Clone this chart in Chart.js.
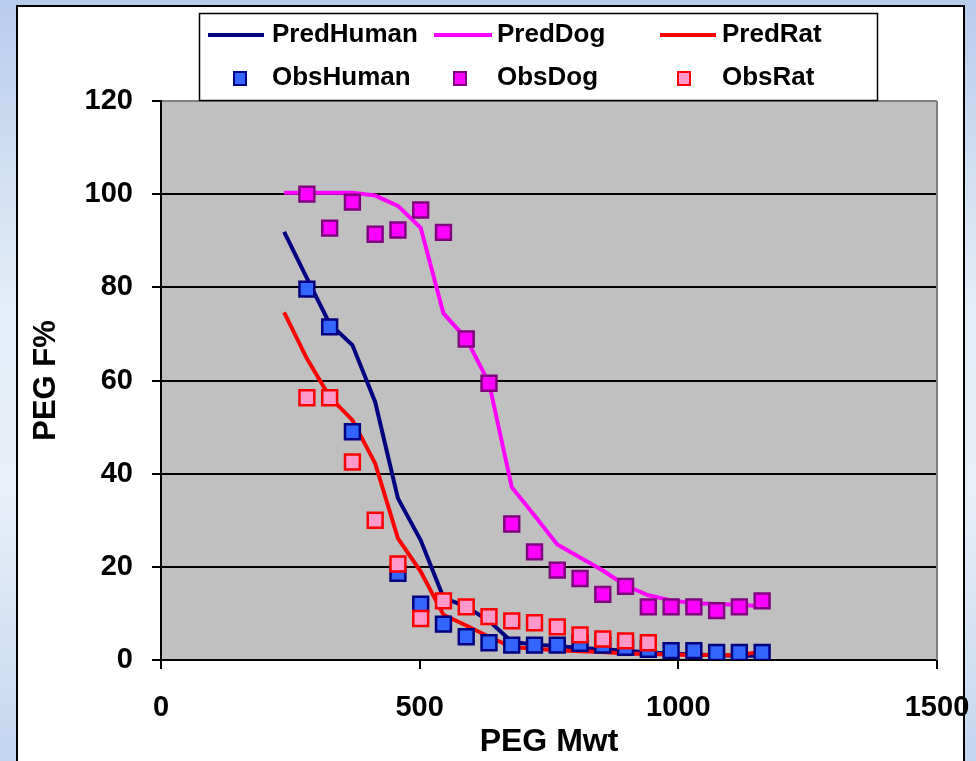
<!DOCTYPE html>
<html lang="en">
<head>
  <meta charset="UTF-8" />
  <title>PEG F% vs PEG Mwt</title>
  <style>
    body { margin: 0; background: #fff; }
    canvas { display: block; }
  </style>
  <script src="https://cdn.jsdelivr.net/npm/chart.js"></script>
</head>
<body>
  <canvas id="pegChart" width="976" height="761"></canvas>
  <script>
    // DATA
    const predMwt = [238, 282, 326, 370, 414, 458, 502, 546, 590, 634, 678, 722, 766, 810, 854, 898, 942, 986, 1030, 1074, 1118, 1162];
    const predHuman = [91.9, 82, 72.2, 67.6, 55.4, 34.7, 25.7, 13.4, 11.4, 8.4, 3.9, 3.3, 3.0, 2.6, 2.3, 2.0, 1.6, 1.4, 1.2, 1.0, 0.9, 0.9];
    const predDog = [100.3, 100.3, 100.3, 100.3, 99.7, 97.5, 92.8, 74.4, 69, 59.5, 37.1, 31, 24.8, 22.0, 19.2, 16.0, 13.9, 12.8, 12.2, 12.0, 11.8, 11.6];
    const predRat = [74.6, 64.7, 56.5, 51.5, 42.2, 26.1, 19, 9.7, 7.4, 5.0, 2.8, 2.4, 2.1, 1.9, 1.7, 1.4, 1.3, 1.2, 1.1, 1.1, 1.1, 1.8];

    const obsMwt = [282, 326, 370, 414, 458, 502, 546, 590, 634, 678, 722, 766, 810, 854, 898, 942, 986, 1030, 1074, 1118, 1162];
    const obsHuman = [79.6, 71.5, 49, null, 18.6, 12.0, 7.7, 5.0, 3.7, 3.2, 3.2, 3.2, 3.6, 3.2, 2.7, 2.3, 2.0, 2.0, 1.6, 1.6, 1.6];
    const obsDog = [100, 92.7, 98.3, 91.4, 92.3, 96.6, 91.8, 68.9, 59.4, 29.2, 23.2, 19.3, 17.5, 14.1, 15.8, 11.4, 11.4, 11.4, 10.6, 11.4, 12.7];
    const obsRat = [56.3, 56.3, 42.5, 30, 20.6, 8.9, 12.7, 11.4, 9.3, 8.4, 8.0, 7.1, 5.4, 4.5, 4.1, 3.7];

    const xTicks = [0, 500, 1000, 1500];
    const yTicks = [0, 20, 40, 60, 80, 100, 120];

    const FONT = "'Liberation Sans', Arial, sans-serif";

    function pairs(xs, ys) {
      return ys.map((y, i) => ({ x: xs[i], y })).filter(p => p.y !== null);
    }

    // background: slide strip, white chart box, grey plot area
    const backdrop = {
      id: 'backdrop',
      beforeDraw(chart) {
        const { ctx, chartArea: a } = chart;
        ctx.save();
        const g = ctx.createLinearGradient(0, 0, 0, chart.height);
        g.addColorStop(0, '#b8cdec');
        g.addColorStop(0.4, '#e4edf8');
        g.addColorStop(0.65, '#e8eff9');
        g.addColorStop(1, '#c3d6f0');
        ctx.fillStyle = g;
        ctx.fillRect(0, 0, chart.width, chart.height);
        ctx.fillStyle = '#fff';
        ctx.fillRect(17, 6, 947, chart.height);
        ctx.strokeStyle = '#000';
        ctx.lineWidth = 2;
        ctx.strokeRect(17, 6, 947, chart.height + 10);
        ctx.fillStyle = '#c0c0c0';
        ctx.fillRect(a.left, a.top, a.right - a.left, a.bottom - a.top);
        ctx.restore();
      },
      beforeDatasetsDraw(chart) {
        const { ctx, chartArea: a } = chart;
        ctx.save();
        ctx.strokeStyle = '#808080';
        ctx.lineWidth = 2;
        ctx.beginPath();
        ctx.moveTo(a.right, a.top);
        ctx.lineTo(a.right, a.bottom);
        ctx.stroke();
        ctx.restore();
      }
    };

    // boxed legend at the top, two rows
    const boxLegend = {
      id: 'boxLegend',
      afterDraw(chart) {
        const { ctx } = chart;
        const ds = chart.data.datasets;
        ctx.save();
        ctx.fillStyle = '#fff';
        ctx.fillRect(199, 13, 678, 87);
        ctx.strokeStyle = '#000';
        ctx.lineWidth = 1.5;
        ctx.strokeRect(199.5, 13.5, 678, 87);
        ctx.font = 'bold 26px ' + FONT;
        ctx.textBaseline = 'middle';
        ctx.textAlign = 'left';
        const lineX = [[208, 264], [434, 492], [660, 716]];
        const textX = [272, 497, 722];
        const markX = [240, 460, 684];
        for (let i = 0; i < 3; i++) {
          const line = ds[i];
          ctx.strokeStyle = line.borderColor;
          ctx.lineWidth = 4;
          ctx.beginPath();
          ctx.moveTo(lineX[i][0], 35);
          ctx.lineTo(lineX[i][1], 35);
          ctx.stroke();
          ctx.fillStyle = '#000';
          ctx.fillText(line.label, textX[i], 35);

          const obs = ds[i + 3];
          ctx.fillStyle = obs.backgroundColor;
          ctx.strokeStyle = obs.borderColor;
          ctx.lineWidth = 2;
          ctx.fillRect(markX[i] - 6, 78 - 6, 12, 13);
          ctx.strokeRect(markX[i] - 6, 78 - 6, 12, 13);
          ctx.fillStyle = '#000';
          ctx.fillText(obs.label, textX[i], 78);
        }
        ctx.restore();
      }
    };

    const predLine = (label, data, color, order) => ({
      label, data: pairs(predMwt, data), showLine: true,
      borderColor: color, backgroundColor: color, borderWidth: 4,
      pointRadius: 0, tension: 0, order
    });
    const obsPoints = (label, data, fill, edge, order) => ({
      label, data: pairs(obsMwt, data), showLine: false,
      pointStyle: 'rect', pointRadius: 10.5, pointBorderWidth: 2.5,
      backgroundColor: fill, borderColor: edge, order
    });

    new Chart(document.getElementById('pegChart'), {
      type: 'scatter',
      data: {
        datasets: [
          predLine('PredHuman', predHuman, '#000080', 6),
          predLine('PredDog', predDog, '#ff00ff', 5),
          predLine('PredRat', predRat, '#ff0000', 4),
          obsPoints('ObsHuman', obsHuman, '#3366ff', '#000080', 3),
          obsPoints('ObsDog', obsDog, '#ff00ff', '#800080', 2),
          obsPoints('ObsRat', obsRat, '#ff99cc', '#ff0000', 1)
        ]
      },
      options: {
        responsive: false,
        animation: false,
        devicePixelRatio: 1,
        layout: { padding: { top: 101, right: 39, left: 0, bottom: 0 } },
        plugins: { legend: { display: false }, tooltip: { enabled: false } },
        scales: {
          x: {
            type: 'linear', min: 0, max: 1500,
            afterFit(scale) { scale.height = 101; scale.paddingLeft = 0; scale.paddingRight = 0; },
            afterBuildTicks(scale) { scale.ticks = xTicks.map(v => ({ value: v })); },
            grid: { drawOnChartArea: false, color: '#000', tickColor: '#000', tickLength: 9, lineWidth: 2 },
            border: { color: '#000', width: 2 },
            ticks: {
              color: '#000', padding: 22, maxRotation: 0,
              callback: v => String(v),
              font: { family: FONT, size: 29, weight: 'bold' }
            },
            title: { display: true, text: 'PEG Mwt', color: '#000', padding: { top: 0, bottom: 0 }, font: { family: FONT, size: 32, weight: 'bold' } }
          },
          y: {
            min: 0, max: 120,
            afterFit(scale) { scale.width = 161; scale.paddingTop = 0; scale.paddingBottom = 0; },
            afterBuildTicks(scale) { scale.ticks = yTicks.map(v => ({ value: v })); },
            grid: {
              color: c => (c.tick && c.tick.value === 120 ? '#808080' : '#000'),
              tickColor: '#000', tickLength: 9, lineWidth: 2
            },
            border: { color: '#000', width: 2 },
            ticks: { color: '#000', padding: 19, callback: v => String(v), font: { family: FONT, size: 29, weight: 'bold' } },
            title: { display: true, text: 'PEG F%', color: '#000', padding: { top: 28, bottom: 0 }, font: { family: FONT, size: 31, weight: 'bold' } }
          }
        }
      },
      plugins: [backdrop, boxLegend]
    });
  </script>
</body>
</html>
